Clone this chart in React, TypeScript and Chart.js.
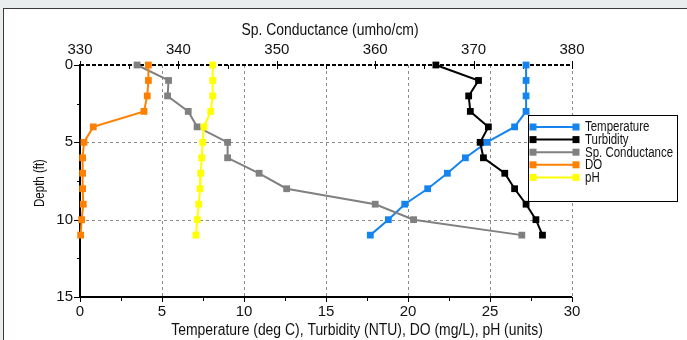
import React, { useEffect, useRef } from "react";
import { Chart, registerables } from "chart.js";

Chart.register(...registerables);

const depths = [0, 1, 2, 3, 4, 5, 6, 7, 8, 9, 10, 11];
const temperature = [27.2, 27.2, 27.2, 27.2, 26.5, 24.8, 23.5, 22.4, 21.2, 19.8, 18.8, 17.7];
const turbidity = [21.7, 24.3, 23.7, 23.8, 24.9, 24.4, 24.6, 25.9, 26.5, 27.2, 27.8, 28.2];
const spConductance = [335.8, 339.0, 338.9, 341.0, 341.9, 345.0, 345.0, 348.2, 351.0, 360.0, 363.9, 374.9];
const dissolvedOxygen = [4.17, 4.17, 4.1, 3.9, 0.81, 0.24, 0.16, 0.16, 0.16, 0.2, 0.1, 0.04];
const ph = [8.09, 8.09, 8.09, 7.97, 7.56, 7.48, 7.42, 7.36, 7.32, 7.24, 7.15, 7.07];

const seriesNames = ["Temperature", "Turbidity", "Sp. Conductance", "DO", "pH"];
const seriesColors = ["rgb(22,132,240)", "#000000", "rgb(128,128,128)", "rgb(255,128,0)", "rgb(255,255,0)"];

const bottomTitle = "Temperature (deg C), Turbidity (NTU), DO (mg/L), pH (units)";
const topTitle = "Sp. Conductance (umho/cm)";
const leftTitle = "Depth (ft)";

const FONT = '"Liberation Sans", Arial, sans-serif';

const toPoints = (vals: number[]) => vals.map((v, i) => ({ x: v, y: depths[i] }));

function squeezedText(ctx: any, text: string, x: number, y: number, size: number, sx: number, rot = 0) {
  ctx.save();
  ctx.translate(x, y);
  if (rot) ctx.rotate(rot);
  ctx.scale(sx, 1);
  ctx.font = `${size}px ${FONT}`;
  ctx.fillText(text, 0, 0);
  ctx.restore();
}

const decorPlugin = {
  id: "decor",
  beforeDatasetsDraw(chart: any) {
    const ctx = chart.ctx;
    const x = chart.scales.x;
    const x2 = chart.scales.x2;
    const y = chart.scales.y;
    const top = y.getPixelForValue(0);
    const bottom = y.getPixelForValue(15);
    const left = x.getPixelForValue(0);
    const right = x.getPixelForValue(30);
    ctx.save();
    ctx.strokeStyle = "rgb(140,140,140)";
    ctx.lineWidth = 1;
    ctx.setLineDash([3, 3]);
    for (let v = 5; v <= 30; v += 5) {
      const px = Math.round(x.getPixelForValue(v)) + 0.5;
      ctx.beginPath();
      ctx.moveTo(px, top);
      ctx.lineTo(px, bottom);
      ctx.stroke();
    }
    for (const d of [5, 10]) {
      const py = Math.round(y.getPixelForValue(d)) + 0.5;
      ctx.beginPath();
      ctx.moveTo(left, py);
      ctx.lineTo(right, py);
      ctx.stroke();
    }
    ctx.strokeStyle = "#000";
    ctx.lineWidth = 2;
    ctx.setLineDash([4, 2]);
    ctx.beginPath();
    ctx.moveTo(left, top);
    ctx.lineTo(right, top);
    ctx.stroke();
    ctx.setLineDash([]);
    ctx.beginPath();
    ctx.moveTo(left, top - 1);
    ctx.lineTo(left, bottom);
    ctx.lineTo(right, bottom);
    ctx.stroke();
    ctx.lineWidth = 1;
    for (let v = 0; v <= 30; v += 2.5) {
      const px = Math.round(x.getPixelForValue(v)) + 0.5;
      const len = v % 5 === 0 ? 5 : 4;
      ctx.beginPath();
      ctx.moveTo(px, bottom);
      ctx.lineTo(px, bottom + len);
      ctx.stroke();
    }
    for (let v = 330; v <= 380; v += 5) {
      const px = Math.round(x2.getPixelForValue(v)) + 0.5;
      ctx.beginPath();
      if (v % 10 === 0) {
        ctx.moveTo(px, top - 4);
        ctx.lineTo(px, top + 4);
      } else {
        ctx.moveTo(px, top);
        ctx.lineTo(px, top + 4);
      }
      ctx.stroke();
    }
    for (let d = 0; d <= 15; d += 2.5) {
      const py = Math.round(y.getPixelForValue(d)) + 0.5;
      const len = d % 5 === 0 ? 6 : 3;
      ctx.beginPath();
      ctx.moveTo(left - len, py);
      ctx.lineTo(left, py);
      ctx.stroke();
    }
    ctx.restore();
  },
  afterDraw(chart: any) {
    const ctx = chart.ctx;
    ctx.save();
    ctx.fillStyle = "#111";
    ctx.textAlign = "center";
    ctx.textBaseline = "alphabetic";
    squeezedText(ctx, topTitle, 330, 35, 16, 0.87);
    squeezedText(ctx, bottomTitle, 357, 335, 16, 0.87);
    squeezedText(ctx, leftTitle, 44, 183, 14, 0.82, -Math.PI / 2);
    const bx = 528.5, by = 115.5, bw = 149, bh = 86;
    ctx.fillStyle = "#fff";
    ctx.fillRect(bx, by, bw, bh);
    ctx.strokeStyle = "#000";
    ctx.lineWidth = 1;
    ctx.strokeRect(bx, by, bw, bh);
    ctx.textAlign = "left";
    ctx.textBaseline = "middle";
    seriesNames.forEach((name, i) => {
      const ry = 127 + i * 12.6;
      ctx.strokeStyle = seriesColors[i];
      ctx.fillStyle = seriesColors[i];
      ctx.lineWidth = 2;
      ctx.beginPath();
      ctx.moveTo(533, ry);
      ctx.lineTo(576, ry);
      ctx.stroke();
      ctx.fillRect(529.5, ry - 3.5, 7, 7);
      ctx.fillRect(572.5, ry - 3.5, 7, 7);
      ctx.fillStyle = "#111";
      squeezedText(ctx, name, 585, ry + 0.5, 14, 0.82);
    });
    ctx.restore();
  },
};

export default function App() {
  const canvasRef = useRef<HTMLCanvasElement | null>(null);
  useEffect(() => {
    const canvas = canvasRef.current;
    if (!canvas) return;
    const values = [temperature, turbidity, spConductance, dissolvedOxygen, ph];
    const datasets = values.map((vals, i) => ({
      label: seriesNames[i],
      data: toPoints(vals),
      xAxisID: i === 2 ? "x2" : "x",
      yAxisID: "y",
      showLine: true,
      borderColor: seriesColors[i],
      backgroundColor: seriesColors[i],
      borderWidth: 2,
      pointStyle: "rect" as const,
      pointRadius: 4.8,
      pointBorderWidth: 0,
      pointBackgroundColor: seriesColors[i],
      tension: 0,
      order: 5 - i,
      clip: false as any,
    }));
    const tickFont = { family: FONT, size: 15 };
    const noGrid = { display: false, drawTicks: false, tickLength: 0 };
    const chart = new Chart(canvas, {
      type: "scatter",
      data: { datasets },
      options: {
        responsive: false,
        maintainAspectRatio: false,
        animation: false,
        devicePixelRatio: 1,
        layout: { padding: { left: 0, right: 115, top: 0, bottom: 0 } },
        plugins: {
          legend: { display: false },
          tooltip: { enabled: false },
          title: { display: false },
        },
        scales: {
          x: {
            type: "linear",
            position: "bottom",
            min: 0,
            max: 30,
            ticks: { stepSize: 5, padding: 6, color: "#111", font: tickFont },
            grid: noGrid,
            border: { display: false },
            afterFit: (s: any) => {
              s.height = 43;
            },
          },
          x2: {
            type: "linear",
            position: "top",
            min: 330,
            max: 380,
            ticks: { stepSize: 10, padding: 6, color: "#111", font: tickFont },
            grid: noGrid,
            border: { display: false },
            afterFit: (s: any) => {
              s.height = 65;
            },
          },
          y: {
            type: "linear",
            reverse: true,
            min: 0,
            max: 15,
            ticks: { stepSize: 5, padding: 7, color: "#111", font: tickFont },
            grid: noGrid,
            border: { display: false },
            afterFit: (s: any) => {
              s.width = 80;
            },
          },
        },
      } as any,
      plugins: [decorPlugin],
    });
    return () => chart.destroy();
  }, []);
  return (
    <div style={{ position: "absolute", left: 0, top: 0, width: 687, height: 340, background: "#eaeded", overflow: "hidden" }}>
      <div
        style={{
          position: "absolute",
          left: 3,
          top: 8,
          width: 700,
          height: 340,
          background: "#fff",
          borderLeft: "1.5px solid #3a3a3a",
          borderTop: "1.5px solid #3a3a3a",
        }}
      />
      <canvas
        ref={canvasRef}
        width={687}
        height={340}
        style={{ position: "absolute", left: 0, top: 0, width: 687, height: 340 }}
      />
    </div>
  );
}
